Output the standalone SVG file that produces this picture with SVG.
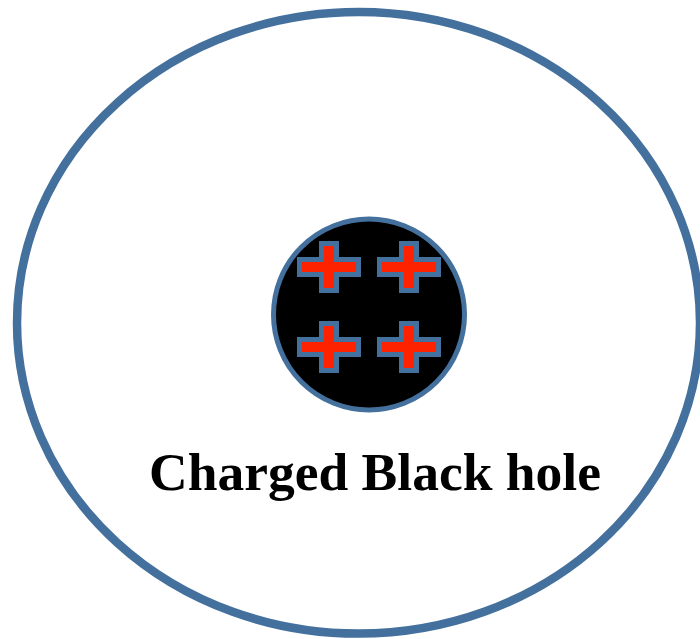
<svg xmlns="http://www.w3.org/2000/svg" width="700" height="639" viewBox="0 0 700 639">
<defs>
<style>
.ring{fill:#ffffff;stroke:#44709d;stroke-width:8.5}
.hole{fill:#000000;stroke:#44709d;stroke-width:5}
.plus{fill:#ff2200;stroke:#44709d;stroke-width:5;stroke-linejoin:miter}
.lbl{font-family:"Liberation Serif","Times New Roman",serif;font-weight:bold;font-size:53.5px;fill:#000000}
</style>
<polygon id="plusShape" class="plus" points="-7.5,-23.5 7.5,-23.5 7.5,-7.5 29.5,-7.5 29.5,7.5 7.5,7.5 7.5,23.5 -7.5,23.5 -7.5,7.5 -29.5,7.5 -29.5,-7.5 -7.5,-7.5"/>
</defs>
<rect width="700" height="639" fill="#ffffff"/>
<g id="field">
<ellipse class="ring" cx="358.5" cy="322.8" rx="341.5" ry="310.8"/>
</g>
<g id="blackhole">
<circle class="hole" cx="369" cy="314.5" r="95.5"/>
<use href="#plusShape" x="329" y="267"/>
<use href="#plusShape" x="409" y="267"/>
<use href="#plusShape" x="329" y="347"/>
<use href="#plusShape" x="409" y="347"/>
</g>
<g id="label">
<text class="lbl" x="375" y="490" text-anchor="middle">Charged Black hole</text>
</g>
<g id="connectors"></g>
</svg>
